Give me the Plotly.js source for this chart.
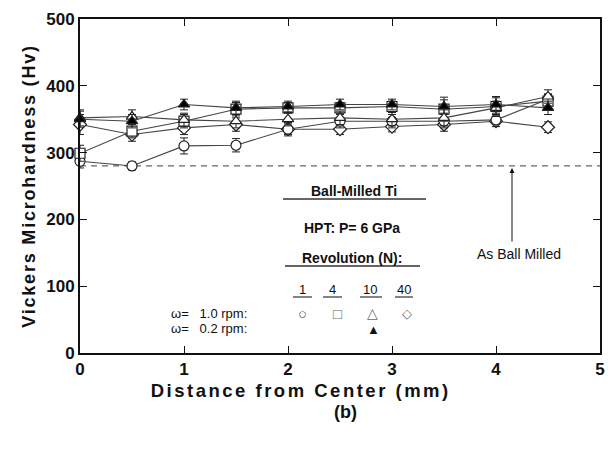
<!DOCTYPE html>
<html>
<head>
<meta charset="utf-8">
<script src="https://cdn.plot.ly/plotly-3.0.1.min.js"></script>
<style>
html,body{margin:0;padding:0;background:#fff;}
#chart{width:612px;height:455px;}
.ytitle{letter-spacing:1.8px;}
</style>
</head>
<body>
<div id="chart"></div>
<script>
var distance = [0, 0.5, 1, 1.5, 2, 2.5, 3, 3.5, 4, 4.5];
var hvN1  = [287, 280, 310, 311, 335, 347, 347, 347, 349, 380];
var errN1 = [10, 6, 12, 10, 10, 10, 10, 10, 10, 8];
var hvN4  = [299, 332, 347, 365, 367, 367, 369, 365, 369, 377];
var errN4 = [12, 10, 10, 10, 8, 8, 8, 18, 15, 10];
var hvN10 = [352, 354, 349, 347, 350, 352, 350, 352, 367, 384];
var errN10 = [12, 10, 10, 10, 10, 10, 10, 12, 10, 10];
var hvN40 = [342, 327, 337, 342, 335, 335, 339, 342, 347, 338];
var errN40 = [15, 10, 10, 10, 8, 8, 8, 10, 8, 8];
var hvN10slow = [350, 347, 372, 367, 369, 372, 372, 369, 372, 367];
var errN10slow = [12, 10, 8, 10, 8, 8, 8, 10, 10, 10];
var asBallMilled = 280;
var xTicks = [0, 1, 2, 3, 4, 5];
var yTicks = [0, 100, 200, 300, 400, 500];

var FONT = 'Liberation Sans, Arial, sans-serif';
function series(y, err, symbol, fill) {
  return {
    x: distance, y: y, type: 'scatter', mode: 'lines+markers',
    line: {color: '#444', width: 1.1},
    marker: {symbol: symbol, size: 10, color: fill, line: {color: '#222', width: 1.2}},
    error_y: {type: 'data', array: err, visible: true, color: '#222', thickness: 1, width: 4},
    showlegend: false, cliponaxis: false
  };
}
var traces = [
  {x: [0, 5], y: [asBallMilled, asBallMilled], type: 'scatter', mode: 'lines',
   line: {color: '#666', width: 1.3, dash: '6px,5px'}, showlegend: false},
  series(hvN40, errN40, 'diamond', '#fff'),
  series(hvN1, errN1, 'circle', '#fff'),
  series(hvN4, errN4, 'square', '#fff'),
  series(hvN10, errN10, 'triangle-up', '#fff'),
  series(hvN10slow, errN10slow, 'triangle-up', '#000')
];

var L = 80, R = 600, T = 19, B = 353;
function px(xp) { return (xp - L) / (R - L); }
function py(yp) { return (B - yp) / (B - T); }
function txt(x, y, t, size, color, anchor) {
  return {x: px(x), y: py(y), xref: 'paper', yref: 'paper', text: t, showarrow: false,
    xanchor: anchor || 'center', yanchor: 'middle',
    font: {family: FONT, size: size, color: color || '#111'}};
}
var xTitleText = '<b>Distance from Center (mm)</b>';
var annotations = [
  txt(354, 191, '<b>Ball-Milled Ti</b>', 14),
  txt(352, 228, '<b>HPT: P= 6 GPa</b>', 14),
  txt(352, 258, '<b>Revolution (N):</b>', 14),
  txt(302, 289, '1', 13),
  txt(332, 289, '4', 13),
  txt(370, 289, '10', 13),
  txt(404, 289, '40', 13),
  txt(169, 313, 'ω=   1.0 rpm:', 13, '#111', 'left'),
  txt(169, 328, 'ω=   0.2 rpm:', 13, '#111', 'left'),
  txt(302, 313, '○', 15, '#666'),
  txt(337, 313, '□', 15, '#666'),
  txt(372, 313, '△', 14, '#666'),
  txt(407, 313, '◇', 13, '#666'),
  txt(373, 329, '▲', 13, '#111'),
  txt(519, 254, 'As Ball Milled', 14),
  {x: px(512), y: py(168), xref: 'paper', yref: 'paper', ax: 0, ay: 75, text: '',
   showarrow: true, arrowhead: 2, arrowsize: 1, arrowwidth: 1, arrowcolor: '#111'},
  txt(300, 390, xTitleText, 18.5),
  txt(345, 412, '<b>(b)</b>', 18)
];
function hl(x0, x1, y, w) {
  return {type: 'line', xref: 'paper', yref: 'paper', x0: px(x0), x1: px(x1), y0: py(y), y1: py(y),
    line: {color: '#333', width: w}};
}
var shapes = [
  hl(283, 426, 199, 1.5), hl(285, 420, 266, 1.5),
  hl(293, 312, 297, 1.2), hl(323, 342, 297, 1.2), hl(360, 382, 297, 1.2), hl(395, 413, 297, 1.2)
];
var axisCommon = {
  ticks: 'inside', ticklen: 7, tickwidth: 1, tickcolor: '#111',
  showline: true, linecolor: '#111', linewidth: 2, mirror: 'ticks', showgrid: false, zeroline: false,
  tickfont: {family: FONT, size: 17, color: '#111'}
};
var layout = {
  width: 612, height: 455,
  margin: {l: L, r: 612 - R, t: T, b: 455 - B},
  paper_bgcolor: '#fff', plot_bgcolor: '#fff',
  font: {family: FONT, color: '#111'},
  xaxis: Object.assign({}, axisCommon, {range: [0, 5], tickvals: xTicks,
    ticktext: xTicks.map(function(v){return '<b>'+v+'</b>';})}),
  yaxis: Object.assign({}, axisCommon, {range: [0, 500], tickvals: yTicks,
    ticktext: yTicks.map(function(v){return '<b>'+v+'</b>';}),
    title: {text: '<b>Vickers Microhardness (Hv)</b>', font: {family: FONT, size: 18, color: '#111'}, standoff: 6}}),
  annotations: annotations, shapes: shapes
};
Plotly.newPlot('chart', traces, layout, {displayModeBar: false, staticPlot: true}).then(function(gd) {
  var nodes = gd.querySelectorAll('.annotation-text');
  nodes.forEach(function(n) {
    if (n.textContent.indexOf('Distance') === 0) { n.style.letterSpacing = '2.5px'; }
  });
});
</script>
</body>
</html>
